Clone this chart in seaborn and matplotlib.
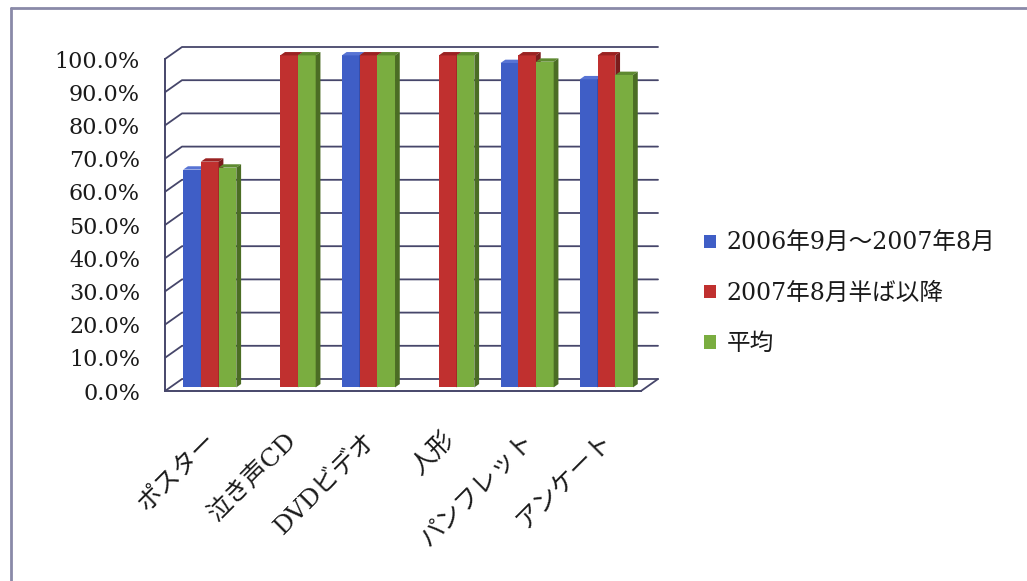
import numpy as np
import pandas as pd
import matplotlib
matplotlib.use("Agg")
import matplotlib.pyplot as plt
import seaborn as sns
from matplotlib.ticker import PercentFormatter, FixedLocator
from matplotlib.transforms import ScaledTranslation
from matplotlib.patches import Polygon, Patch
from matplotlib.lines import Line2D

# ---- data -------------------------------------------------------------
items = ["ポスター", "泣き声CD", "DVDビデオ", "人形", "パンフレット", "アンケート"]
periods = ["2006年9月～2007年8月", "2007年8月半ば以降", "平均"]
rate_first = [65.6, 0.0, 100.0, 0.0, 97.7, 92.8]
rate_second = [68.0, 100.0, 100.0, 100.0, 100.0, 100.0]
rate_avg = [66.2, 100.0, 100.0, 100.0, 98.1, 94.1]
y_ticks = list(range(0, 101, 10))

# ---- style ------------------------------------------------------------
front_colors = ["#3f5ec6", "#c0302f", "#7aad40"]
side_colors = ["#263a8c", "#7a1c1c", "#4b6d24"]
top_colors = ["#5874d4", "#9a2222", "#5e8a30"]
wall_color = "#46466a"
DEPTH = (17.0, 12.0)          # wall depth in pixels (right, up)
BAR_FRONT, BAR_BACK = 0.30, 0.58

sns.set_theme(style="white")
plt.rcParams["font.family"] = ["DejaVu Serif", "Noto Sans CJK JP"]

rows = []
for period, vals in zip(periods, [rate_first, rate_second, rate_avg]):
    for item, v in zip(items, vals):
        rows.append({"item": item, "period": period, "rate": v})
df = pd.DataFrame(rows)

W, H = 1027, 581
fig = plt.figure(figsize=(W / 100, H / 100), dpi=100)
fig.patch.set_facecolor("white")
ax = fig.add_axes([165 / W, 190 / H, 476 / W, 332 / H])

sns.barplot(data=df, x="item", y="rate", hue="period", order=items,
            hue_order=periods, palette=front_colors, saturation=1,
            width=0.67, errorbar=None, legend=False, linewidth=0, ax=ax)

ax.set_xlim(-0.5, len(items) - 0.5)
ax.set_ylim(0, 100)
ax.set_xlabel("")
ax.set_ylabel("")
ax.set_facecolor("none")


def back(x, y, frac):
    """Move a data point back into the depth of the chart by a fraction."""
    p = ax.transData.transform((x, y))
    p = p + np.array([DEPTH[0] * frac, DEPTH[1] * frac])
    return ax.transData.inverted().transform(p)


# walls: left side wall and back wall gridlines
x_left, x_right = -0.5, len(items) - 0.5
for v in y_ticks:
    a = (x_left, v)
    b = back(x_left, v, 1.0)
    c = back(x_right, v, 1.0)
    ax.plot([a[0], b[0], c[0]], [a[1], b[1], c[1]], color=wall_color,
            lw=1.3, clip_on=False, zorder=1)
r = back(x_right, 0, 1.0)
ax.plot([x_right, r[0]], [0, r[1]], color=wall_color, lw=1.3,
        clip_on=False, zorder=1)

# 3-D look for each bar: shifted front face plus top and side faces
shift = ScaledTranslation(DEPTH[0] * BAR_FRONT / 100, DEPTH[1] * BAR_FRONT / 100,
                          fig.dpi_scale_trans)
for k, container in enumerate(ax.containers):
    for j, bar in enumerate(container):
        x0 = bar.get_x()
        x1 = x0 + bar.get_width()
        h = bar.get_height()
        z = 3 + j * 0.1 + k * 0.01
        bar.set_transform(ax.transData + shift)
        bar.set_clip_on(False)
        bar.set_zorder(z)
        if h <= 0:
            bar.set_visible(False)
            continue
        top = [back(x0, h, BAR_FRONT), back(x1, h, BAR_FRONT),
               back(x1, h, BAR_BACK), back(x0, h, BAR_BACK)]
        side = [back(x1, 0, BAR_FRONT), back(x1, h, BAR_FRONT),
                back(x1, h, BAR_BACK), back(x1, 0, BAR_BACK)]
        ax.add_patch(Polygon(top, closed=True, facecolor=top_colors[k],
                             edgecolor="none", clip_on=False, zorder=z))
        ax.add_patch(Polygon(side, closed=True, facecolor=side_colors[k],
                             edgecolor="none", clip_on=False, zorder=z))

# axes, ticks and labels
for s in ["top", "right"]:
    ax.spines[s].set_visible(False)
for s in ["left", "bottom"]:
    ax.spines[s].set_color(wall_color)
    ax.spines[s].set_linewidth(1.4)
    ax.spines[s].set_zorder(2)

ax.yaxis.set_major_locator(FixedLocator(y_ticks))
ax.yaxis.set_major_formatter(PercentFormatter(decimals=1))
ax.tick_params(axis="y", direction="out", length=5, width=1.3,
               color=wall_color, pad=13, labelsize=16, labelcolor="#1a1a1a")

ax.set_xticks(range(len(items)))
ax.set_xticklabels(items, rotation=45, ha="right", rotation_mode="anchor")
ax.set_xticks(np.arange(-0.5, len(items), 1.0), minor=True)
ax.tick_params(axis="x", which="major", length=0, pad=27, labelsize=18,
               labelcolor="#1a1a1a")
ax.tick_params(axis="x", which="minor", direction="out", length=5,
               width=1.3, color=wall_color)
ax.grid(False)

# legend
handles = [Patch(facecolor=c, edgecolor="none") for c in front_colors]
fig.legend(handles, periods, loc="upper left",
           bbox_to_anchor=(704 / W, 1 - 232 / H), frameon=False,
           fontsize=17, handlelength=0.5, handleheight=0.5,
           handletextpad=0.45, labelspacing=1.15, borderpad=0,
           borderaxespad=0, labelcolor="#1a1a1a")

# chart frame
frame_color = "#8a8aa8"
fig.add_artist(Line2D([11 / W, 11 / W], [0, 1 - 8 / H], transform=fig.transFigure,
                      color=frame_color, lw=2))
fig.add_artist(Line2D([11 / W, 1], [1 - 8 / H, 1 - 8 / H], transform=fig.transFigure,
                      color=frame_color, lw=2))

fig.savefig("out.png", dpi=100)
